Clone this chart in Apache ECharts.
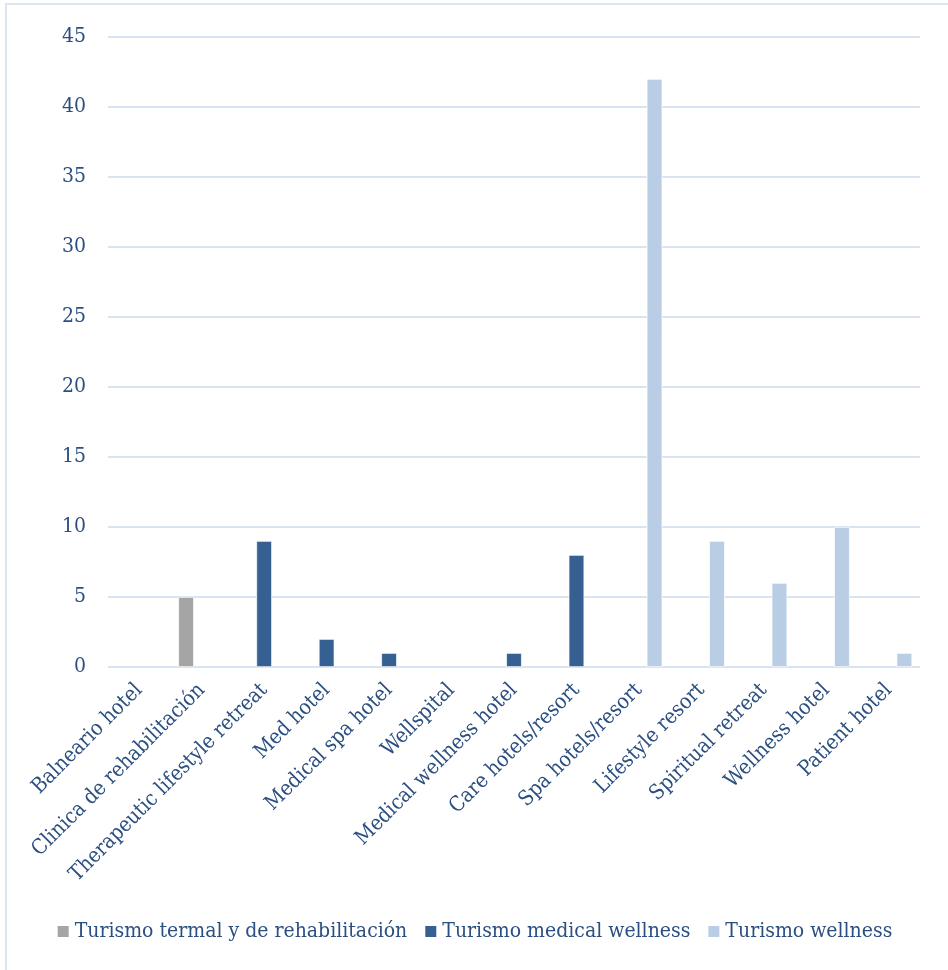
<!DOCTYPE html>
<html>
<head>
<meta charset="utf-8">
<script src="https://cdn.jsdelivr.net/npm/echarts@6/dist/echarts.min.js"></script>
<style>
html,body{margin:0;padding:0;background:#fff;}
#chart{width:948px;height:970px;}
</style>
</head>
<body>
<div id="chart"></div>
<script>
var categories = ["Balneario hotel","Clinica de rehabilitación","Therapeutic lifestyle retreat","Med hotel","Medical spa hotel","Wellspital","Medical wellness hotel","Care hotels/resort","Spa hotels/resort","Lifestyle resort","Spiritual retreat","Wellness hotel","Patient hotel"];
var seriesNames = ["Turismo termal y de rehabilitación","Turismo medical wellness","Turismo wellness"];
var termal = [null,5,null,null,null,null,null,null,null,null,null,null,null];
var medical = [null,null,9,2,1,null,1,8,null,null,null,null,null];
var wellness = [null,null,null,null,null,null,null,null,42,9,6,10,1];
var yTicks = {min:0,max:45,interval:5};

var textColor = '#2b4f80';
var font = 'DejaVu Serif Condensed, DejaVu Serif';
var colors = ['#a5a5a5','#376092','#b9cde5'];
var chart = echarts.init(document.getElementById('chart'));
var dataSets = [termal, medical, wellness];
chart.setOption({
  animation:false,
  backgroundColor:'#ffffff',
  graphic:[{type:'rect',shape:{x:6,y:4,width:1000,height:1000},style:{fill:'none',stroke:'#dce6f2',lineWidth:2},silent:true}],
  grid:{left:108,right:28,top:37,bottom:303,containLabel:false},
  legend:{bottom:23,left:'center',itemWidth:13,itemHeight:13,itemGap:16,icon:'rect',
    textStyle:{color:textColor,fontFamily:font,fontSize:21},data:seriesNames},
  xAxis:{type:'category',data:categories,
    axisLine:{show:false},axisTick:{show:false},
    axisLabel:{rotate:45,interval:0,color:textColor,fontFamily:font,fontSize:21,margin:20}},
  yAxis:{type:'value',min:yTicks.min,max:yTicks.max,interval:yTicks.interval,
    axisLine:{show:false},axisTick:{show:false},
    axisLabel:{color:textColor,fontFamily:font,fontSize:21,margin:22},
    splitLine:{lineStyle:{color:'#d9e4f2',width:2}}},
  series:dataSets.map(function(d,i){return {name:seriesNames[i],type:'bar',data:d,
    barGap:'0%',barCategoryGap:'25%',
    itemStyle:{color:colors[i],borderColor:'#ffffff',borderWidth:0.7}};})
});
</script>
</body>
</html>
